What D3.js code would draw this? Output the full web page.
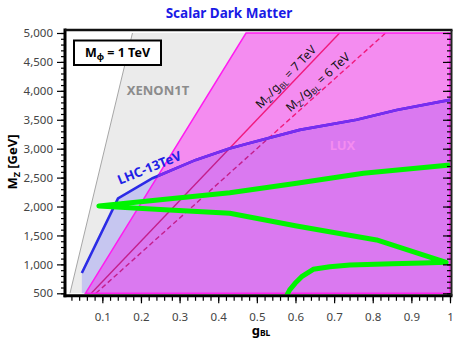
<!DOCTYPE html>
<html>
<head>
<meta charset="utf-8">
<script src="https://cdn.jsdelivr.net/npm/d3@7"></script>
<style>
  body { margin: 0; background: #fff; }
  text { font-family: "Noto Sans", sans-serif; }
</style>
</head>
<body>
<svg id="chart" width="459" height="349"></svg>
<script>
// values: g_BL on x, M_Z' [GeV] on y
const xenonEdgeG = [0.0163, 0.178]
const xenonEdgeM = [500, 5000]
const luxEdgeG = [0.0562, 0.472]
const luxEdgeM = [500, 5000]
const lhcG = [0.047, 0.1406, 0.23, 0.342, 0.427, 0.482, 0.611, 0.758, 0.862, 1.0]
const lhcM = [851, 2142, 2490, 2806, 3000, 3100, 3325, 3500, 3670, 3844]
const relicG = [0.577, 0.585, 0.599, 0.616, 0.646, 0.689, 0.741, 0.85, 0.93, 0.99,
                0.81, 0.603, 0.43, 0.25, 0.091,
                0.25, 0.43, 0.603, 0.776, 1.0]
const relicM = [460, 560, 673, 787, 915, 960, 990, 1010, 1025, 1035,
                1422, 1664, 1884, 1950, 2010,
                2117, 2240, 2402, 2575, 2718]
const ratioTeV = [7, 6]
const yTicks = d3.range(500, 5001, 500)
const yMinor = d3.range(500, 5001, 100)
const xTicks = [0.1, 0.2, 0.3, 0.4, 0.5, 0.6, 0.7, 0.8, 0.9, 1]
const xTickLabels = ["0.1", "0.2", "0.3", "0.4", "0.5", "0.6", "0.7", "0.8", "0.9", "1"]
const xMinor = d3.range(0.02, 1.001, 0.02)

const svg = d3.select('#chart')
const x = d3.scaleLinear().domain([0, 1]).range([63.7, 450])
const y = d3.scaleLinear().domain([500, 5000]).range([293.3, 33])
const frameL = 65, frameR = 451.5, frameT = 30, frameB = 295.8

const line = d3.line().x(d => x(d[0])).y(d => y(d[1]))
const zip = (g, m) => g.map((v, i) => [v, m[i]])

const xenonPts = zip(xenonEdgeG, xenonEdgeM)
const luxPts = zip(luxEdgeG, luxEdgeM)
const lhcPts = zip(lhcG, lhcM)
const xenonPoly = xenonPts.concat([[1, 5000], [1, 500]])
const luxPoly = luxPts.concat([[1, 5000], [1, 500]])
const lhcPoly = [[0.047, 500]].concat(lhcPts, [[1, 500]])

const defs = svg.append('defs')
defs.append('clipPath').attr('id', 'clip-plot')
  .append('rect').attr('x', frameL).attr('y', frameT).attr('width', frameR - frameL).attr('height', 294.2 - frameT)
defs.append('clipPath').attr('id', 'clip-lux')
  .append('path').attr('d', line(luxPoly) + 'Z')
defs.append('clipPath').attr('id', 'clip-lhc')
  .append('path').attr('d', line(lhcPoly) + 'Z')

const plot = svg.append('g').attr('clip-path', 'url(#clip-plot)')

// XENON1T
plot.append('path')
  .attr('d', line(xenonPoly) + 'Z')
  .attr('fill', '#ebebeb')
plot.append('path')
  .attr('d', line(xenonPts))
  .attr('fill', 'none')
  .attr('stroke', '#a6a6a6')
  .attr('stroke-width', 1)

// LUX
plot.append('path')
  .attr('d', line(luxPoly) + 'Z')
  .attr('fill', '#f48cf0')

// M/g lines
function ratioLine(tev) {
  return line([[0.5 / tev, 500], [5 / tev, 5000]])
}
ratioTeV.forEach((t, i) => {
  plot.append('path')
    .attr('d', ratioLine(t))
    .attr('fill', 'none')
    .attr('stroke', '#f01a7c')
    .attr('stroke-width', 1.4)
    .attr('stroke-dasharray', i == 1 ? '5,3' : null)
})

// LHC-13TeV excluded region
plot.append('path')
  .attr('d', line(lhcPoly) + 'Z')
  .attr('fill', '#c6c6f0')
plot.append('path')
  .attr('d', line(lhcPoly) + 'Z')
  .attr('fill', '#da79f0')
  .attr('clip-path', 'url(#clip-lux)')
ratioTeV.forEach((t, i) => {
  plot.append('path')
    .attr('d', ratioLine(t))
    .attr('fill', 'none')
    .attr('stroke', '#c41e8c')
    .attr('stroke-width', 1.4)
    .attr('stroke-dasharray', i == 1 ? '5,3' : null)
    .attr('clip-path', 'url(#clip-lhc)')
})

plot.append('path')
  .attr('d', line(luxPoly) + 'Z')
  .attr('fill', 'none')
  .attr('stroke', '#ff1cf0')
  .attr('stroke-width', 1.5)

plot.append('path')
  .attr('d', line(lhcPts))
  .attr('fill', 'none')
  .attr('stroke', '#2b2be6')
  .attr('stroke-width', 2.6)
plot.append('path')
  .attr('d', line(lhcPts))
  .attr('fill', 'none')
  .attr('stroke', '#7a2cf0')
  .attr('stroke-width', 2.6)
  .attr('clip-path', 'url(#clip-lux)')

// relic density curve
plot.append('path')
  .attr('d', line(zip(relicG, relicM)))
  .attr('fill', 'none')
  .attr('stroke', '#00f400')
  .attr('stroke-width', 5)
  .attr('stroke-linejoin', 'round')

// region labels
svg.append('text')
  .attr('x', 158).attr('y', 94.5)
  .attr('text-anchor', 'middle')
  .attr('font-size', 13).attr('font-weight', 'bold')
  .attr('fill', '#8c8c8c')
  .text('XENON1T')

svg.append('text')
  .attr('x', 342.5).attr('y', 150)
  .attr('text-anchor', 'middle')
  .attr('font-size', 13).attr('font-weight', 'bold')
  .attr('fill', '#f48cf0')
  .text('LUX')

svg.append('text')
  .attr('transform', 'translate(151,172) rotate(-22)')
  .attr('text-anchor', 'middle')
  .attr('font-size', 13).attr('font-weight', 'bold')
  .attr('fill', '#2020e6')
  .text('LHC-13TeV')

// rotated M/g labels
const labelG = [0.591, 0.673]
ratioTeV.forEach((t, i) => {
  const g = labelG[i]
  const px = x(g), py = y(g * t * 1000)
  const ang = Math.atan2(y(500) - y(5000), x(5 / t) - x(0.5 / t)) * 180 / Math.PI
  const lbl = svg.append('text')
    .attr('transform', `translate(${px},${py}) rotate(${-ang})`)
    .attr('y', -4.5)
    .attr('text-anchor', 'middle')
    .attr('font-size', 12)
    .attr('fill', '#111')
  lbl.append('tspan').text('M')
  lbl.append('tspan').attr('font-size', 8).attr('dy', 3).text("Z'")
  lbl.append('tspan').attr('dy', -3).text('/g')
  lbl.append('tspan').attr('font-size', 8).attr('dy', 3).text('BL')
  lbl.append('tspan').attr('dy', -3).text(` = ${t} TeV`)
})

// legend box
svg.append('rect')
  .attr('x', 74).attr('y', 40.5).attr('width', 87).attr('height', 24.5)
  .attr('fill', '#fff').attr('stroke', '#000').attr('stroke-width', 2)
const leg = svg.append('text')
  .attr('x', 117.5).attr('y', 57)
  .attr('text-anchor', 'middle')
  .attr('font-size', 12.5).attr('font-weight', 'bold')
leg.append('tspan').text('M')
leg.append('tspan').attr('font-size', 9).attr('dy', 3).text('φ')
leg.append('tspan').attr('dy', -3).text(' = 1 TeV')

// axes
function styleAxis(g) {
  g.select('.domain').remove()
  g.selectAll('.tick line').attr('stroke', '#000').attr('stroke-width', 1.2)
  g.selectAll('.tick text').attr('fill', '#444').attr('font-size', 11.5)
    .attr('font-family', '"Noto Sans", sans-serif')
}

svg.append('g').attr('transform', `translate(${frameL},0)`)
  .call(d3.axisLeft(y).tickValues(yMinor).tickSize(4).tickFormat(''))
  .call(styleAxis)
svg.append('g').attr('transform', `translate(${frameL},0)`)
  .call(d3.axisLeft(y).tickValues(yTicks).tickSize(8).tickPadding(4).tickFormat(d3.format(',')))
  .call(styleAxis)
svg.append('g').attr('transform', `translate(${frameR - 0.5},0)`)
  .call(d3.axisLeft(y).tickValues(yMinor).tickSize(4).tickFormat(''))
  .call(styleAxis)
svg.append('g').attr('transform', `translate(${frameR - 0.5},0)`)
  .call(d3.axisLeft(y).tickValues(yTicks).tickSize(8).tickFormat(''))
  .call(styleAxis)

svg.append('g').attr('transform', `translate(0,${frameB})`)
  .call(d3.axisBottom(x).tickValues(xMinor).tickSize(5).tickFormat(''))
  .call(styleAxis)
svg.append('g').attr('transform', `translate(0,${frameB})`)
  .call(d3.axisBottom(x).tickValues(xTicks).tickSize(7.5).tickPadding(10)
    .tickFormat((d, i) => xTickLabels[i]))
  .call(styleAxis)

// frame
svg.append('line').attr('x1', frameL).attr('x2', frameL).attr('y1', frameT - 1.5).attr('y2', frameB + 1.5)
  .attr('stroke', '#000').attr('stroke-width', 3)
svg.append('line').attr('x1', frameL - 1.5).attr('x2', frameR + 1).attr('y1', frameB).attr('y2', frameB)
  .attr('stroke', '#000').attr('stroke-width', 3)
svg.append('line').attr('x1', frameL).attr('x2', frameR + 1).attr('y1', frameT).attr('y2', frameT)
  .attr('stroke', '#111').attr('stroke-width', 2.5)
svg.append('line').attr('x1', frameR).attr('x2', frameR).attr('y1', frameT).attr('y2', frameB)
  .attr('stroke', '#222').attr('stroke-width', 2)

// titles
svg.append('text')
  .attr('x', 229).attr('y', 18)
  .attr('text-anchor', 'middle')
  .attr('font-size', 13.5).attr('font-weight', 'bold')
  .attr('fill', '#1a1ae6')
  .text('Scalar Dark Matter')

const xl = svg.append('text')
  .attr('x', 261).attr('y', 335)
  .attr('text-anchor', 'middle')
  .attr('font-size', 13).attr('font-weight', 'bold')
xl.append('tspan').text('g')
xl.append('tspan').attr('font-size', 8.5).attr('dy', 1).text('BL')

const yl = svg.append('text')
  .attr('transform', 'translate(17,162) rotate(-90)')
  .attr('text-anchor', 'middle')
  .attr('font-size', 13).attr('font-weight', 'bold')
yl.append('tspan').text('M')
yl.append('tspan').attr('font-size', 9).attr('dy', 3).text('Z')
yl.append('tspan').attr('dy', -3).text(' [GeV]')
</script>
</body>
</html>
